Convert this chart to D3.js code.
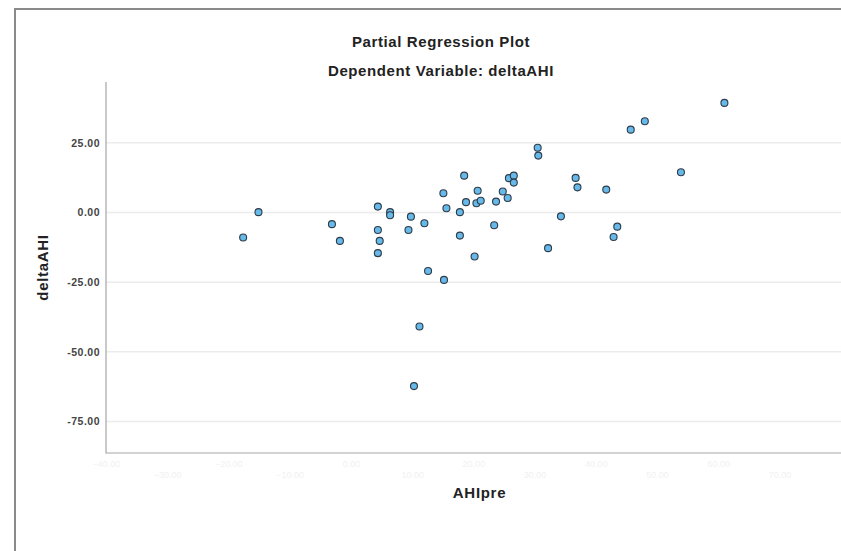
<!DOCTYPE html>
<html>
<head>
<meta charset="utf-8">
<script src="https://cdn.jsdelivr.net/npm/d3@7"></script>
<style>
  body { margin: 0; background: #fff; }
  text { font-family: 'Liberation Sans', Arial, sans-serif; }
</style>
</head>
<body>
<script>
// partial residuals
const ahiPre = [
  -17.6, -15.1, -3.1, -1.8, 4.4, 4.4, 4.7, 4.4, 6.4, 6.4,
  9.8, 9.4, 12.0, 12.6, 15.2, 15.1, 15.6, 17.8, 17.8, 18.5,
  18.8, 20.5, 21.2, 20.7, 20.2, 23.4, 23.7, 24.8, 25.6, 25.8,
  26.6, 26.6, 30.5, 30.6, 32.2, 34.3, 36.7, 37.0, 41.7, 42.9,
  43.5, 45.7, 48.0, 53.9, 61.0, 11.2, 10.3
]
const deltaAhi = [
  -9.0, 0.1, -4.2, -10.2, 2.1, -6.3, -10.2, -14.6, 0.1, -1.0,
  -1.5, -6.3, -3.9, -21.0, -24.2, 6.9, 1.5, 0.1, -8.3, 13.2,
  3.7, 3.3, 4.2, 7.8, -15.8, -4.6, 3.9, 7.5, 5.2, 12.3,
  13.2, 10.7, 23.2, 20.4, -12.8, -1.4, 12.4, 9.0, 8.2, -8.8,
  -5.1, 29.7, 32.7, 14.4, 39.3, -40.9, -62.3
]
const yTicks = [25, 0, -25, -50, -75]
const xTicks = [-40, -30, -20, -10, 0, 10, 20, 30, 40, 50, 60, 70]

const w = 841
const h = 551
const plot = { left: 106, right: 853, top: 82, bottom: 453 }

const svg = d3.select('body').append('svg')
  .attr('width', w)
  .attr('height', h)

const x = d3.scaleLinear()
  .domain([-40, 82])
  .range([plot.left, plot.right])

const y = d3.scaleLinear()
  .domain([-86.3, 46.8])
  .range([plot.bottom, plot.top])

// outer frame (only top and left show in the crop)
svg.append('path')
  .attr('d', `M15,${h} L15,9 L${w},9`)
  .attr('fill', 'none')
  .attr('stroke', '#8a8a8a')
  .attr('stroke-width', 2)

// titles
svg.append('text')
  .attr('x', 441).attr('y', 46.5)
  .attr('text-anchor', 'middle')
  .attr('font-size', 15).attr('font-weight', 'bold')
  .attr('letter-spacing', 0.6)
  .attr('fill', '#222')
  .text('Partial Regression Plot')

svg.append('text')
  .attr('x', 441).attr('y', 75.5)
  .attr('text-anchor', 'middle')
  .attr('font-size', 15).attr('font-weight', 'bold')
  .attr('letter-spacing', 0.6)
  .attr('fill', '#222')
  .text('Dependent Variable: deltaAHI')

// grid lines
svg.append('g')
  .selectAll('line')
  .data(yTicks)
  .enter().append('line')
  .attr('x1', plot.left).attr('x2', plot.right)
  .attr('y1', d => y(d)).attr('y2', d => y(d))
  .attr('stroke', '#ececec')
  .attr('stroke-width', 1.5)

// y axis
const yAxis = svg.append('g')
  .attr('transform', `translate(${plot.left},0)`)
  .call(d3.axisLeft(y).tickValues(yTicks).tickSize(0).tickPadding(6)
    .tickFormat(d => d3.format('.2f')(d).replace('−', '-')))
yAxis.select('.domain').remove()
yAxis.selectAll('text')
  .attr('font-size', 10.5).attr('font-weight', 'bold')
  .attr('letter-spacing', 0.5)
  .attr('fill', '#444')
  .style('font-family', "'Liberation Sans', Arial, sans-serif")

// x axis: labels are almost washed out in the picture
const xAxis = svg.append('g')
  .attr('transform', `translate(0,${plot.bottom})`)
  .call(d3.axisBottom(x).tickValues(xTicks).tickSize(0).tickPadding(8)
    .tickFormat(d => d3.format('.2f')(d)))
xAxis.select('.domain').remove()
xAxis.selectAll('text')
  .attr('dy', (d, i) => i % 2 ? '1.9em' : '0.71em')
  .attr('font-size', 9)
  .attr('fill', '#f1f1f1')

// axis lines
svg.append('path')
  .attr('d', `M${plot.left},${plot.top} L${plot.left},${plot.bottom} L${plot.right},${plot.bottom}`)
  .attr('fill', 'none')
  .attr('stroke', '#a6a6a6')
  .attr('stroke-width', 1.2)

// axis titles
svg.append('text')
  .attr('x', (plot.left + plot.right) / 2).attr('y', 498)
  .attr('text-anchor', 'middle')
  .attr('font-size', 15).attr('font-weight', 'bold')
  .attr('letter-spacing', 0.7)
  .attr('fill', '#222')
  .text('AHIpre')

svg.append('text')
  .attr('transform', `translate(48,${(plot.top + plot.bottom) / 2}) rotate(-90)`)
  .attr('text-anchor', 'middle')
  .attr('font-size', 15).attr('font-weight', 'bold')
  .attr('letter-spacing', 0.7)
  .attr('fill', '#222')
  .text('deltaAHI')

// points
const pts = ahiPre.map((v, i) => ({ x: v, y: deltaAhi[i] }))
svg.append('g')
  .selectAll('circle')
  .data(pts)
  .enter().append('circle')
  .attr('cx', d => x(d.x))
  .attr('cy', d => y(d.y))
  .attr('r', 3.5)
  .attr('fill', '#66b9e8')
  .attr('stroke', '#2e3b48')
  .attr('stroke-width', 1.1)
</script>
</body>
</html>
